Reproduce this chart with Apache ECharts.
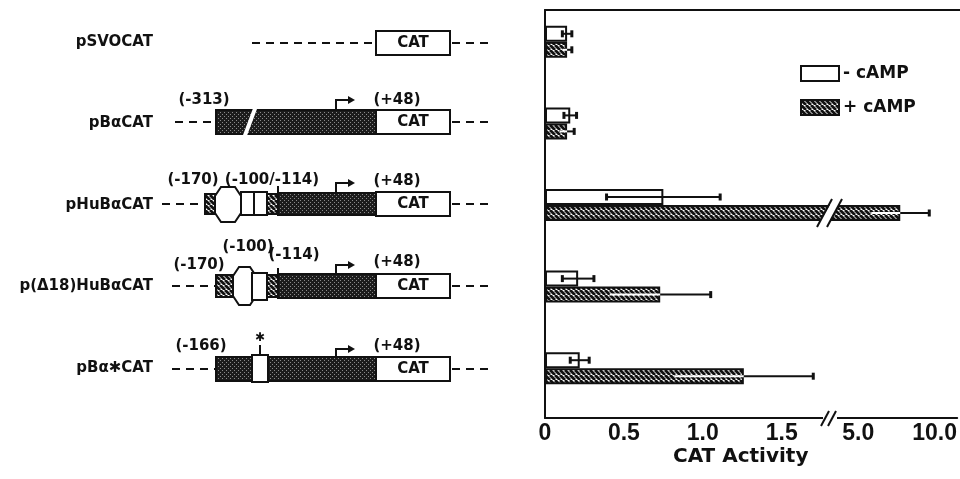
<!DOCTYPE html>
<html>
<head>
<meta charset="utf-8">
<script src="https://cdn.jsdelivr.net/npm/echarts@6.0.0/dist/echarts.min.js"></script>
<style>
  html, body { margin: 0; padding: 0; background: #fff; }
  #chart { width: 960px; height: 479px; }
</style>
</head>
<body>
<div id="chart"></div>
<script>
// --- Data ---
const constructs = ['pSVOCAT', 'pBαCAT', 'pHuBαCAT', 'p(Δ18)HuBαCAT', 'pBα✱CAT'];
const minusCamp = [0.14, 0.16, 0.75, 0.21, 0.22];
const minusErr = [0.03, 0.04, 0.36, 0.10, 0.06];
const plusCamp = [0.14, 0.14, 7.75, 0.73, 1.26];
const plusErr = [0.03, 0.045, 1.9, 0.32, 0.44];
const lowTicks = [0, 0.5, 1, 1.5];
const highTicks = [5, 10];

const INK = '#111';
const BAR_WIDTH = 16;
const LOW_MAX = 1.806;   // left part of broken axis
const HIGH_MIN = 3.148;  // right part of broken axis
const HIGH_MAX = 11.48;
const FONT = '"DejaVu Sans", sans-serif';

// --- Patterns ---
function makeHatch() {
  const c = document.createElement('canvas');
  c.width = 5; c.height = 5;
  const g = c.getContext('2d');
  g.fillStyle = '#fff';
  g.fillRect(0, 0, 5, 5);
  g.strokeStyle = INK;
  g.lineWidth = 2.8;
  [-5, 0, 5].forEach((o) => {
    g.beginPath();
    g.moveTo(o, 0);
    g.lineTo(o + 5, 5);
    g.stroke();
  });
  return c;
}

function makeStipple() {
  const c = document.createElement('canvas');
  c.width = 4; c.height = 4;
  const g = c.getContext('2d');
  g.fillStyle = '#1c1c1c';
  g.fillRect(0, 0, 4, 4);
  g.fillStyle = '#8a8a8a';
  g.fillRect(0, 0, 1, 1);
  g.fillRect(2, 2, 1, 1);
  return c;
}

const hatch = { image: makeHatch(), repeat: 'repeat' };
const stipple = { image: makeStipple(), repeat: 'repeat' };

// --- Error bars ---
function errorItems(values, errs, side) {
  return values.map((v, i) => [v - errs[i], v + errs[i], v, i, side]);
}
const allErrors = errorItems(minusCamp, minusErr, -1).concat(errorItems(plusCamp, plusErr, 1));
const lowErrors = allErrors.filter((d) => d[1] <= LOW_MAX);
const highErrors = allErrors.filter((d) => d[0] >= HIGH_MIN);

function seg(x1, y1, x2, y2, stroke, width) {
  return { type: 'line', shape: { x1, y1, x2, y2 }, style: { stroke, lineWidth: width || 2 } };
}

function renderErrorBar(params, api) {
  const cat = api.value(3);
  const side = api.value(4);
  const y = api.coord([api.value(2), cat])[1] + side * BAR_WIDTH / 2;
  const xLo = api.coord([api.value(0), cat])[0];
  const xMid = api.coord([api.value(2), cat])[0];
  const xHi = api.coord([api.value(1), cat])[0];
  const cap = (x) => seg(x, y - 3.5, x, y + 3.5, INK, 3);
  const children = [];
  if (side < 0) {
    children.push(seg(xLo, y, xHi, y, INK), cap(xLo), cap(xHi));
  } else {
    children.push(seg(xLo, y, xMid, y, '#fff'), seg(xMid, y, xHi, y, INK), cap(xHi));
  }
  return { type: 'group', children };
}

// --- Construct diagrams (left panel) ---
function dash(x1, x2, y) {
  return { type: 'line', shape: { x1, y1: y, x2, y2: y }, style: { stroke: INK, lineWidth: 2, lineDash: [8, 6] } };
}
function box(x1, y1, x2, y2, fill) {
  return { type: 'rect', shape: { x: x1, y: y1, width: x2 - x1, height: y2 - y1 }, style: { fill, stroke: INK, lineWidth: 2 } };
}
function label(x, y, text, size) {
  return {
    type: 'text', x, y,
    style: { text, fill: INK, font: `bold ${size || 15}px ${FONT}`, align: 'center', verticalAlign: 'middle', textAlign: 'center', textVerticalAlign: 'middle' },
  };
}
function hexagon(x1, x2, y1, y2) {
  const d = 6, h = 9;
  return {
    type: 'polygon',
    shape: { points: [[x1 + d, y1], [x2 - d, y1], [x2, y1 + h], [x2, y2 - h], [x2 - d, y2], [x1 + d, y2], [x1, y2 - h], [x1, y1 + h]] },
    style: { fill: '#fff', stroke: INK, lineWidth: 2 },
  };
}
function arrow(x, yBar, yTop) {
  return [
    { type: 'polyline', shape: { points: [[x, yBar], [x, yTop], [x + 13, yTop]] }, style: { stroke: INK, lineWidth: 2, fill: null } },
    { type: 'polygon', shape: { points: [[x + 12, yTop - 4], [x + 19, yTop], [x + 12, yTop + 4]] }, style: { fill: INK } },
  ];
}
function catTail(y) {
  return [box(376, y - 12, 450, y + 12, '#fff'), label(413, y, 'CAT'), dash(452, 490, y)];
}

const diagram = [
  // pSVOCAT
  dash(252, 376, 43), ...catTail(43),
  // pBαCAT
  dash(175, 216, 122), box(216, 110, 376, 134, stipple),
  seg(244, 138, 256, 106, '#fff', 4),
  ...arrow(336, 110, 100), label(204, 100, '(-313)'), label(397, 100, '(+48)'), ...catTail(122),
  // pHuBαCAT
  dash(162, 205, 204), box(205, 194, 216, 214, hatch), hexagon(215, 241, 187, 222),
  box(241, 192, 254, 215, '#fff'), box(254, 192, 267, 215, '#fff'), box(267, 194, 278, 214, hatch),
  box(278, 193, 376, 215, stipple), seg(278, 193, 278, 186, INK),
  ...arrow(336, 193, 183), label(193, 180, '(-170)'), label(272, 180, '(-100/-114)'), label(397, 181, '(+48)'),
  ...catTail(204),
  // p(Δ18)HuBαCAT
  dash(172, 216, 286), box(216, 275, 233, 297, hatch), hexagon(233, 256, 267, 305),
  box(252, 273, 267, 300, '#fff'), box(267, 275, 278, 297, hatch),
  box(278, 274, 376, 298, stipple), seg(278, 274, 278, 268, INK),
  ...arrow(336, 274, 265), label(199, 265, '(-170)'), label(248, 247, '(-100)'), label(294, 255, '(-114)'),
  label(397, 262, '(+48)'), ...catTail(286),
  // pBα*CAT
  dash(172, 216, 369), box(216, 357, 376, 381, stipple), box(252, 355, 268, 382, '#fff'),
  seg(260, 355, 260, 345, INK), label(260, 338, '✱', 12),
  ...arrow(336, 357, 349), label(201, 346, '(-166)'), label(397, 346, '(+48)'), ...catTail(369),
];

// --- Axis break marks ---
const breaks = [
  { type: 'rect', shape: { x: 823, y: 413, width: 14, height: 10 }, style: { fill: '#fff' }, z: 100 },
  { type: 'line', shape: { x1: 821, y1: 426, x2: 829, y2: 411 }, style: { stroke: INK, lineWidth: 2 }, z: 101 },
  { type: 'line', shape: { x1: 828, y1: 426, x2: 836, y2: 411 }, style: { stroke: INK, lineWidth: 2 }, z: 101 },
  { type: 'polygon', shape: { points: [[819, 224], [828, 224], [841, 201], [832, 201]] }, style: { fill: '#fff' }, z: 100 },
  { type: 'line', shape: { x1: 817, y1: 227, x2: 832, y2: 199 }, style: { stroke: INK, lineWidth: 2 }, z: 101 },
  { type: 'line', shape: { x1: 827, y1: 227, x2: 842, y2: 199 }, style: { stroke: INK, lineWidth: 2 }, z: 101 },
];

// --- Chart Option Builder ---
const axisLine = { show: true, onZero: false, lineStyle: { color: INK, width: 2 } };
const tickLabel = { fontFamily: '"Liberation Sans", sans-serif', fontWeight: 'bold', fontSize: 23, color: INK, margin: 4 };

function barSeries(name, data, axisIndex, fill) {
  return {
    name, type: 'bar', xAxisIndex: axisIndex, yAxisIndex: axisIndex, data,
    barWidth: BAR_WIDTH, barGap: '0%',
    itemStyle: { color: fill, borderColor: INK, borderWidth: 2 },
  };
}

const option = {
  animation: false,
  title: {
    text: 'CAT Activity', left: 673, top: 447, padding: 0,
    textStyle: { fontFamily: FONT, fontWeight: 'bold', fontSize: 20, color: INK },
  },
  legend: {
    data: ['- cAMP', '+ cAMP'], orient: 'vertical', left: 800, top: 65, padding: 0,
    itemWidth: 38, itemHeight: 15, itemGap: 17, icon: 'rect',
    textStyle: { fontFamily: FONT, fontWeight: 'bold', fontSize: 17, color: INK, padding: [0, 0, 0, -1] },
  },
  grid: [
    { left: 545, top: 1, width: 285, height: 408 },
    { left: 830, top: 1, width: 135, height: 408 },
    { left: 545, top: 10, width: 420, height: 408 },
  ],
  xAxis: [
    {
      gridIndex: 0, type: 'value', min: 0, max: LOW_MAX, offset: 9, axisLine, splitLine: { show: false },
      axisTick: { inside: true, length: 7, customValues: lowTicks.slice(1), lineStyle: { color: INK, width: 2 } },
      axisLabel: { ...tickLabel, customValues: lowTicks, formatter: (v) => (v === 0 ? '0' : v.toFixed(1)) },
    },
    {
      gridIndex: 1, type: 'value', min: HIGH_MIN, max: HIGH_MAX, offset: 9, axisLine, splitLine: { show: false },
      axisTick: { inside: true, length: 7, customValues: highTicks, lineStyle: { color: INK, width: 2 } },
      axisLabel: { ...tickLabel, customValues: highTicks, formatter: (v) => v.toFixed(1) },
    },
    {
      gridIndex: 2, type: 'value', position: 'top', min: 0, max: 1, axisLine,
      axisTick: { show: false }, axisLabel: { show: false }, splitLine: { show: false },
    },
  ],
  yAxis: [
    {
      gridIndex: 0, type: 'category', data: constructs, inverse: true,
      axisLine: { show: false }, axisTick: { show: false },
      axisLabel: { margin: 392, fontFamily: FONT, fontWeight: 'bold', fontSize: 15, color: INK },
    },
    { gridIndex: 1, type: 'category', data: constructs, inverse: true, show: false },
    {
      gridIndex: 2, type: 'value', min: 0, max: 1, axisLine,
      axisTick: { show: false }, axisLabel: { show: false }, splitLine: { show: false },
    },
  ],
  series: [
    barSeries('- cAMP', minusCamp, 0, '#fff'),
    barSeries('+ cAMP', plusCamp, 0, hatch),
    barSeries('- cAMP', minusCamp.map((v) => (v > HIGH_MIN ? v : '-')), 1, '#fff'),
    barSeries('+ cAMP', plusCamp.map((v) => (v > HIGH_MIN ? v : '-')), 1, hatch),
    {
      type: 'custom', xAxisIndex: 0, yAxisIndex: 0, data: lowErrors, z: 5,
      encode: { x: [0, 1, 2], y: 3 }, renderItem: renderErrorBar,
    },
    {
      type: 'custom', xAxisIndex: 1, yAxisIndex: 1, data: highErrors, z: 5,
      encode: { x: [0, 1, 2], y: 3 }, renderItem: renderErrorBar,
    },
  ],
  graphic: { elements: diagram.concat(breaks) },
};

const chart = echarts.init(document.getElementById('chart'));
chart.setOption(option);
</script>
</body>
</html>
